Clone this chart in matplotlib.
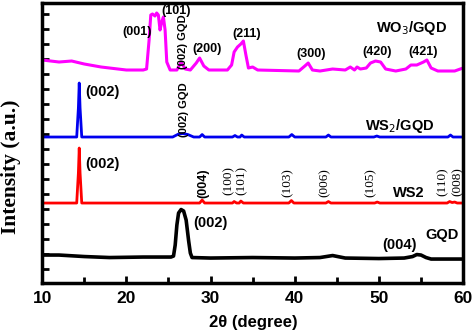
import numpy as np
import matplotlib
matplotlib.use("Agg")
import matplotlib.pyplot as plt

# XRD patterns, intensity in arbitrary units (stacked)
gqd_x = [10, 12, 15, 18, 22, 25.3, 25.6, 25.8, 26.0, 26.2, 26.5, 26.8, 27.1, 27.4, 27.6, 27.8,
         30, 35, 40, 43, 44.5, 46, 50, 53, 54.0, 54.5, 55.0, 55.6, 56.2, 60]
gqd_y = [28, 28, 26.5, 25.5, 26, 26, 27, 38, 58, 70, 73.5, 72, 63, 42, 30, 25.5,
         25, 25.5, 25, 25.5, 27.5, 25, 24.5, 25, 26.5, 28.5, 28, 25.5, 24, 24]

ws2_x = [10, 14.1, 14.3, 14.4, 14.5, 14.7, 28.7, 29.0, 29.3, 32.6, 32.8, 33.1, 33.4, 33.6, 33.9,
         39.3, 39.6, 39.9, 43.7, 44.0, 44.3, 49.5, 49.8, 50.1, 58.1, 58.4, 58.7, 59.0, 59.3, 60]
ws2_y = [80, 80, 110, 135, 110, 80, 80, 83, 80, 80, 81.5, 80, 80, 82, 80,
         80, 82.5, 80, 80, 81.5, 80, 80, 81, 80, 80, 81.5, 80.5, 81, 80, 80]

ws2gqd_x = [10, 14.1, 14.3, 14.4, 14.5, 14.7, 25.5, 26.2, 26.7, 27.3, 28.0, 28.7, 29.0, 29.3,
            32.6, 32.9, 33.2, 33.5, 33.7, 34.0, 39.3, 39.65, 40.0, 43.7, 44.0, 44.3,
            49.4, 49.75, 50.1, 58.2, 58.5, 58.8, 60]
ws2gqd_y = [146, 146, 175, 200, 175, 146, 146, 149, 149.5, 148.5, 146, 146, 148.5, 146,
            146, 147.5, 146, 146, 148, 146, 146, 148.5, 146, 146, 148, 146,
            146, 147, 146, 146, 148, 146, 146]

wo3_x = [10, 12, 13.5, 15, 17, 20, 22, 22.4, 22.7, 22.9, 23.1, 23.4, 23.6, 23.8, 24.0, 24.2,
         24.4, 24.6, 24.8, 25.2, 26.0, 26.5, 27.0, 27.6, 28.3, 28.7, 29.2, 29.8, 32.0, 32.5,
         32.8, 33.2, 33.6, 33.9, 34.2, 34.5, 35.0, 35.6, 40.5, 41.2, 41.6, 42.1, 43, 44.5,
         46, 46.6, 47.1, 47.4, 47.8, 48.5, 49.0, 49.6, 50.2, 50.8, 52, 53.2, 53.8, 54.5,
         55.3, 55.7, 56.2, 57, 59, 60]
wo3_y = [223, 221, 222, 219, 216, 213, 213, 214, 243, 268, 269, 267, 270, 268, 253, 261,
         266, 253, 221, 213, 213, 221, 214, 213, 220, 225, 217, 213, 213, 218,
         231, 236, 239, 242, 228, 215, 216, 213, 212, 217, 220, 213, 212, 214,
         213, 216, 213, 216, 214, 215, 220, 222, 221, 214, 212, 214, 218, 218,
         221, 223, 215, 212, 212, 215]

fig = plt.figure(figsize=(4.74, 3.33), dpi=100)
ax = fig.add_axes([0.089, 0.150, 0.888, 0.841])

ax.plot(gqd_x, gqd_y, color="black", lw=2.6)
ax.plot(ws2_x, ws2_y, color="#ff0000", lw=2)
ax.plot(ws2gqd_x, ws2gqd_y, color="#0000ee", lw=2)
ax.plot(wo3_x, wo3_y, color="#ff00ff", lw=2.2)

ax.set_xlim(10, 60)
ax.set_ylim(0, 280)
ax.set_xticks([10, 20, 30, 40, 50, 60])
ax.set_xticks([15, 25, 35, 45, 55], minor=True)
ax.set_yticks(np.arange(14, 270, 15))
ax.set_yticklabels([])
ax.tick_params(direction="in", length=5, width=2, labelsize=12.5, pad=6)
ax.tick_params(which="minor", direction="in", length=4, width=2)
for lab in ax.get_xticklabels():
    lab.set_fontweight("bold")
    lab.set_family("Liberation Sans")
for s in ax.spines.values():
    s.set_linewidth(2.5)

fig.text(253 / 474, 1 - 322 / 333, "2θ (degree)", fontsize=12, fontweight="bold",
         family="Liberation Sans", ha="center", va="center")
fig.text(11 / 474, 1 - 167 / 333, "Intensity (a.u.)", fontsize=15.5, fontweight="bold",
         family="Liberation Serif", ha="center", va="center", rotation=90)

sans = dict(fontsize=9, fontweight="bold", family="Liberation Sans", ha="center", va="center")
big = dict(fontsize=10.5, fontweight="bold", family="Liberation Sans", ha="center", va="center")
serif = dict(fontsize=9.5, family="Liberation Serif", ha="center", va="center", rotation=90)
vsans = dict(fontsize=8, fontweight="bold", family="Liberation Sans", ha="center", va="center", rotation=90)

# WO3/GQD
ax.text(21.3, 251, "(001)", **sans)
ax.text(25.9, 272, "(101)", **sans)
ax.text(26.7, 241, "(002) GQD", **vsans)
ax.text(29.6, 234, "(200)", **sans)
ax.text(34.3, 249, "(211)", **sans)
ax.text(41.9, 229, "(300)", **sans)
ax.text(49.8, 231, "(420)", **sans)
ax.text(55.2, 231, "(421)", **sans)
ax.text(53.9, 255, "WO$_3$/GQD", **big)

# WS2/GQD
ax.text(17.1, 191, "(002)", **big)
ax.text(26.9, 173, "(002) GQD", **vsans)
ax.text(52.5, 157, "WS$_2$/GQD", **big)

# WS2
ax.text(17.1, 119, "(002)", **big)
ax.text(29.1, 100, "(004)", fontsize=9, fontweight="bold", family="Liberation Sans",
        ha="center", va="center", rotation=90)
ax.text(32.1, 103, "(100)", **serif)
ax.text(33.75, 103, "(101)", **serif)
ax.text(39.1, 100, "(103)", **serif)
ax.text(43.6, 100, "(006)", **serif)
ax.text(49.0, 100, "(105)", **serif)
ax.text(57.6, 101, "(110)", **serif)
ax.text(59.4, 101, "(008)", **serif)
ax.text(53.5, 90, "WS2", **big)

# GQD
ax.text(30.0, 60, "(002)", **big)
ax.text(52.5, 38, "(004)", **big)
ax.text(57.5, 48, "GQD", **big)

fig.savefig("out.png", dpi=100)
